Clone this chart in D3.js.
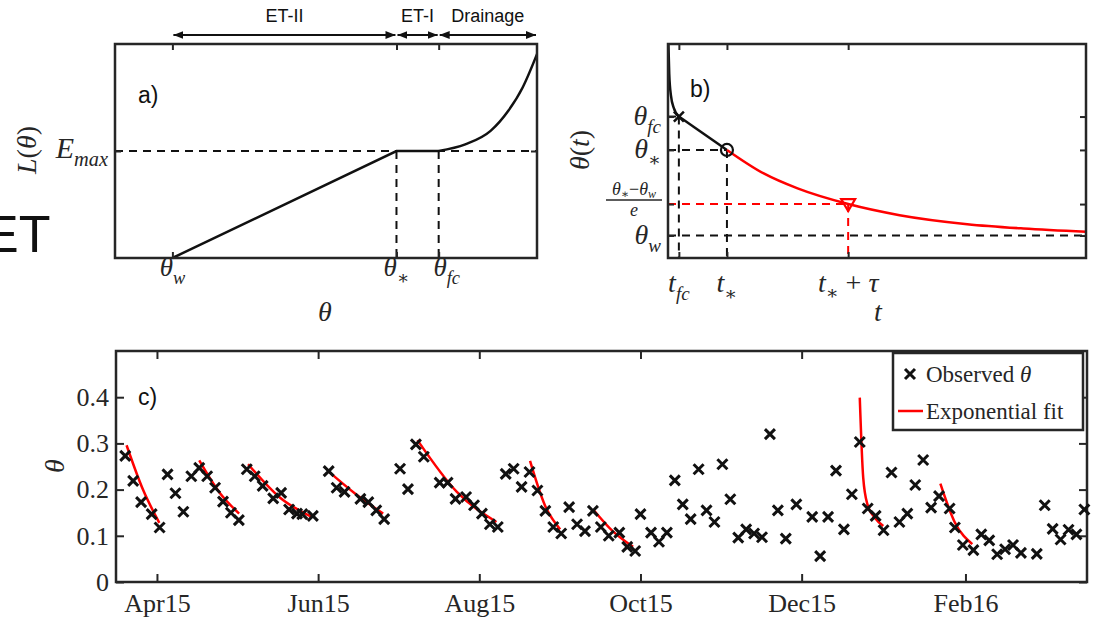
<!DOCTYPE html>
<html>
<head>
<meta charset="utf-8">
<script src="https://cdn.jsdelivr.net/npm/d3@7"></script>
<style>
  body { margin: 0; background: #fff; }
  .serif { font-family: "Liberation Serif", "DejaVu Serif", serif; fill: #262626; }
  .sans { font-family: "Liberation Sans", Arial, sans-serif; fill: #111; }
</style>
</head>
<body>
<div id="app"></div>
<script>
// ---- panel a: loss function (axis fractions) ----
const thetaW = 0.136, thetaStar = 0.667, thetaFc = 0.767, eMax = 0.5;
const lossLine = [[thetaW, 0], [thetaStar, eMax], [thetaFc, eMax]];
const drainage = [[0.767, 0.5], [0.83, 0.531], [0.89, 0.594], [0.932, 0.688], [0.966, 0.797], [1.0, 0.953]];
const regimes = [["ET-II", thetaW, thetaStar], ["ET-I", thetaStar, thetaFc], ["Drainage", thetaFc, 1]];

// ---- panel b: drydown schematic (axis fractions) ----
const tFc = 0.026, tStar = 0.141, tTau = 0.431;
const thFc = 0.661, thStar = 0.505, thE = 0.252, thW = 0.105;
const fastDrain = [[0.001, 1.0], [0.003, 0.86], [0.007, 0.76], [0.014, 0.70], [tFc, thFc]];
const slowDrain = [[tFc, thFc], [tStar, thStar]];
const expDecay = [[0.141, 0.505], [0.229, 0.395], [0.31, 0.325], [0.431, 0.252], [0.554, 0.20], [0.716, 0.158], [0.85, 0.138], [1.0, 0.123]];

// ---- panel c: observed soil moisture, days since 2015-04-01 ----
const obsDay = [-12,-9,-6,-2,1,4,7,10,13,16,19,22,25,28,31,34,37,40,44,47,50,53,55,59,65,68,71,77,80,83,86,92,95,98,101,107,110,113,117,120,123,126,129,132,135,138,141,144,147,150,153,156,159,162,165,168,171,175,178,181,183,187,190,193,196,199,202,205,208,211,214,217,220,223,226,229,232,235,238,242,248,251,254,257,260,263,266,269,272,275,278,281,284,287,290,293,296,300,302,305,309,312,315,318,321,324,327,333,336,339,342,345,348,351];
const obsTheta = [0.273,0.219,0.173,0.147,0.118,0.233,0.192,0.152,0.229,0.247,0.229,0.204,0.174,0.150,0.134,0.244,0.229,0.208,0.181,0.193,0.157,0.148,0.147,0.143,0.240,0.204,0.195,0.180,0.173,0.155,0.136,0.245,0.201,0.298,0.271,0.215,0.215,0.180,0.184,0.166,0.148,0.125,0.119,0.234,0.245,0.206,0.238,0.198,0.154,0.119,0.105,0.162,0.125,0.110,0.154,0.119,0.100,0.107,0.076,0.067,0.147,0.107,0.087,0.107,0.220,0.168,0.136,0.244,0.155,0.130,0.255,0.179,0.096,0.114,0.105,0.097,0.320,0.155,0.094,0.168,0.141,0.056,0.141,0.241,0.114,0.190,0.303,0.159,0.143,0.112,0.237,0.130,0.148,0.210,0.264,0.161,0.186,0.159,0.118,0.080,0.069,0.103,0.090,0.060,0.071,0.080,0.063,0.061,0.166,0.115,0.092,0.113,0.103,0.157];

const fitDays = [
  [-11.5, -5.3, 0.9],
  [16, 23.5, 31.1],
  [34.5, 46.5, 58.5],
  [64.8, 75.3, 85.6],
  [98.6, 113.5, 128.5],
  [141.2, 146.9, 152.6],
  [165.1, 172.5, 180.2],
  [266, 267.3, 268.9, 271.7, 274.9],
  [296.5, 301.9, 308.6]
];
const fitTheta = [
  [0.296, 0.200, 0.128],
  [0.263, 0.195, 0.148],
  [0.255, 0.183, 0.141],
  [0.240, 0.190, 0.148],
  [0.307, 0.195, 0.130],
  [0.262, 0.165, 0.114],
  [0.157, 0.110, 0.076],
  [0.399, 0.226, 0.168, 0.139, 0.121],
  [0.213, 0.130, 0.082]
];
const monthTicks = ["2015-04-01", "2015-06-01", "2015-08-01", "2015-10-01", "2015-12-01", "2016-02-01"];
const thetaTicks = [0, 0.1, 0.2, 0.3, 0.4];

const ink = "#262626";
const svg = d3.select("#app").append("svg").attr("width", 1095).attr("height", 619);

// arrow heads for the regime bar
const defs = svg.append("defs");
["end", "start"].forEach(k => {
  defs.append("marker")
    .attr("id", "arr-" + k)
    .attr("viewBox", "0 0 10 10").attr("refX", 10).attr("refY", 5)
    .attr("markerWidth", 10).attr("markerHeight", 10)
    .attr("markerUnits", "userSpaceOnUse")
    .attr("orient", k === "end" ? "auto" : "auto-start-reverse")
    .append("path").attr("d", "M0,1 L10,5 L0,9 Z").attr("fill", "#111");
});

// ticks on all four sides, MATLAB style
function box(g, x, y, xt, yt, len) {
  const [x0, x1] = x.range(), [y1, y0] = y.range();
  g.append("g").attr("transform", `translate(0,${y1})`)
    .call(d3.axisBottom(x).tickValues(xt).tickSize(-len).tickFormat(""));
  g.append("g").attr("transform", `translate(0,${y0})`)
    .call(d3.axisTop(x).tickValues(xt).tickSize(-len).tickFormat(""));
  g.append("g").attr("transform", `translate(${x0},0)`)
    .call(d3.axisLeft(y).tickValues(yt).tickSize(-len).tickFormat(""));
  g.append("g").attr("transform", `translate(${x1},0)`)
    .call(d3.axisRight(y).tickValues(yt).tickSize(-len).tickFormat(""));
  g.selectAll(".domain").remove();
  g.selectAll(".tick line").attr("stroke", ink).attr("stroke-width", 2);
  g.append("rect").attr("x", x0).attr("y", y0).attr("width", x1 - x0).attr("height", y1 - y0)
    .attr("fill", "none").attr("stroke", ink).attr("stroke-width", 2.5);
}

// italic math label with optional subscript
function math(g, x, y, base, sub, size, anchor) {
  const t = g.append("text").attr("class", "serif").attr("x", x).attr("y", y)
    .attr("font-size", size).attr("text-anchor", anchor || "middle");
  t.append("tspan").attr("font-style", "italic").text(base);
  if (sub) {
    t.append("tspan").attr("font-size", size * 0.68).attr("dy", size * 0.28)
      .attr("font-style", sub === "\u2217" ? "normal" : "italic").text(sub);
  }
  return t;
}

function dashed(g, pts, color) {
  g.append("path").attr("d", d3.line()(pts)).attr("fill", "none")
    .attr("stroke", color).attr("stroke-width", 2).attr("stroke-dasharray", "8,6");
}

// ============ panel a ============
const ga = svg.append("g");
const xa = d3.scaleLinear().domain([0, 1]).range([115, 537]);
const ya = d3.scaleLinear().domain([0, 1]).range([258, 44]);

dashed(ga, [[xa(0), ya(eMax)], [xa(1), ya(eMax)]], "#111");
dashed(ga, [[xa(thetaStar), ya(eMax)], [xa(thetaStar), ya(0)]], "#111");
dashed(ga, [[xa(thetaFc), ya(eMax)], [xa(thetaFc), ya(0)]], "#111");

const lineA = d3.line().x(d => xa(d[0])).y(d => ya(d[1]));
ga.append("path").attr("d", lineA(lossLine)).attr("fill", "none").attr("stroke", "#111").attr("stroke-width", 2.5);
ga.append("path").attr("d", lineA.curve(d3.curveMonotoneX)(drainage)).attr("fill", "none").attr("stroke", "#111").attr("stroke-width", 2.5);

box(ga, xa, ya, [thetaW, thetaStar, thetaFc], [eMax], 6);

regimes.forEach(([name, a, b]) => {
  ga.append("line").attr("x1", xa(a) + 1).attr("x2", xa(b) - 1).attr("y1", 35).attr("y2", 35)
    .attr("stroke", "#111").attr("stroke-width", 2)
    .attr("marker-start", "url(#arr-start)").attr("marker-end", "url(#arr-end)");
  ga.append("text").attr("class", "sans").attr("x", (xa(a) + xa(b)) / 2).attr("y", 22)
    .attr("text-anchor", "middle").attr("font-size", 18).text(name);
});

ga.append("text").attr("class", "sans").attr("x", 138).attr("y", 103).attr("font-size", 23).text("a)");
math(ga, xa(thetaW), 276, "\u03b8", "w", 27);
math(ga, xa(thetaStar), 276, "\u03b8", "\u2217", 27);
math(ga, xa(thetaFc) + 8, 276, "\u03b8", "fc", 27);
math(ga, 325, 321, "\u03b8", null, 28);
math(ga, 108, 158, "E", "max", 30, "end");
ga.append("text").attr("class", "serif").attr("font-size", 28).attr("text-anchor", "middle")
  .attr("transform", "translate(36,150) rotate(-90)")
  .html('<tspan font-style="italic">L</tspan>(<tspan font-style="italic">\u03b8</tspan>)');

svg.append("text").attr("class", "sans").attr("x", -16).attr("y", 252).attr("font-size", 52).text("ET");

// ============ panel b ============
const gb = svg.append("g");
const xb = d3.scaleLinear().domain([0, 1]).range([668, 1086]);
const yb = d3.scaleLinear().domain([0, 1]).range([258, 44]);

dashed(gb, [[xb(0), yb(thW)], [xb(1), yb(thW)]], "#111");
dashed(gb, [[xb(0), yb(thFc)], [xb(tFc), yb(thFc)]], "#111");
dashed(gb, [[xb(0), yb(thStar)], [xb(tStar), yb(thStar)]], "#111");
dashed(gb, [[xb(tFc), yb(thFc)], [xb(tFc), yb(0)]], "#111");
dashed(gb, [[xb(tStar), yb(thStar)], [xb(tStar), yb(0)]], "#111");
dashed(gb, [[xb(0), yb(thE)], [xb(tTau), yb(thE)]], "#ff0000");
dashed(gb, [[xb(tTau), yb(thE)], [xb(tTau), yb(0)]], "#ff0000");

const lineB = d3.line().x(d => xb(d[0])).y(d => yb(d[1]));
gb.append("path").attr("d", lineB.curve(d3.curveMonotoneX)(fastDrain)).attr("fill", "none").attr("stroke", "#111").attr("stroke-width", 2.5);
gb.append("path").attr("d", lineB.curve(d3.curveLinear)(slowDrain)).attr("fill", "none").attr("stroke", "#111").attr("stroke-width", 2.5);
gb.append("path").attr("d", lineB.curve(d3.curveMonotoneX)(expDecay)).attr("fill", "none").attr("stroke", "#ff0000").attr("stroke-width", 2.5);

box(gb, xb, yb, [tFc, tStar, tTau], [thW, thE, thStar, thFc], 6);

// markers
const cx = xb(tFc), cy = yb(thFc);
gb.append("path").attr("d", `M${cx - 5},${cy - 5}L${cx + 5},${cy + 5}M${cx - 5},${cy + 5}L${cx + 5},${cy - 5}`)
  .attr("stroke", "#111").attr("stroke-width", 2.5);
gb.append("circle").attr("cx", xb(tStar)).attr("cy", yb(thStar)).attr("r", 6)
  .attr("fill", "none").attr("stroke", "#111").attr("stroke-width", 2.2);
const tx = xb(tTau), ty = yb(thE);
gb.append("path").attr("d", `M${tx - 7},${ty - 5}L${tx + 7},${ty - 5}L${tx},${ty + 7}Z`)
  .attr("fill", "none").attr("stroke", "#ff0000").attr("stroke-width", 2.2);

gb.append("text").attr("class", "sans").attr("x", 690).attr("y", 97).attr("font-size", 23).text("b)");
math(gb, 661, 125, "\u03b8", "fc", 28, "end");
math(gb, 661, 158, "\u03b8", "\u2217", 28, "end");
math(gb, 661, 244, "\u03b8", "w", 28, "end");
// fraction label
const fr = gb.append("text").attr("class", "serif").attr("x", 634).attr("y", 195)
  .attr("font-size", 18).attr("text-anchor", "middle");
fr.append("tspan").attr("font-style", "italic").text("\u03b8");
fr.append("tspan").attr("font-size", 12).attr("dy", 3).text("\u2217");
fr.append("tspan").attr("dy", -3).text("\u2212");
fr.append("tspan").attr("font-style", "italic").text("\u03b8");
fr.append("tspan").attr("font-size", 12).attr("dy", 3).attr("font-style", "italic").text("w");
gb.append("line").attr("x1", 606).attr("x2", 662).attr("y1", 200).attr("y2", 200).attr("stroke", ink).attr("stroke-width", 1.3);
math(gb, 634, 216, "e", null, 18);

math(gb, xb(tFc), 292, "t", "fc", 28);
math(gb, xb(tStar), 292, "t", "\u2217", 28);
const tl = gb.append("text").attr("class", "serif").attr("x", xb(tTau)).attr("y", 292)
  .attr("font-size", 28).attr("text-anchor", "middle");
tl.append("tspan").attr("font-style", "italic").text("t");
tl.append("tspan").attr("font-size", 19).attr("dy", 7).text("\u2217");
tl.append("tspan").attr("dy", -7).text(" + ");
tl.append("tspan").attr("font-style", "italic").text("\u03c4");
math(gb, 878, 321, "t", null, 28);
gb.append("text").attr("class", "serif").attr("font-size", 28).attr("text-anchor", "middle")
  .attr("transform", "translate(589,150) rotate(-90)")
  .html('<tspan font-style="italic">\u03b8</tspan>(<tspan font-style="italic">t</tspan>)');

// ============ panel c ============
const gc = svg.append("g");
const day0 = new Date(2015, 3, 1);
const toDate = d => new Date(day0.getTime() + d * 864e5);
const xc = d3.scaleTime().domain([new Date(2015, 2, 16, 12), new Date(2016, 2, 18)]).range([116, 1087]);
const yc = d3.scaleLinear().domain([0, 0.5]).range([582, 351]);
const months = monthTicks.map(s => d3.timeParse("%Y-%m-%d")(s));

box(gc, xc, yc, months, thetaTicks, 8);

gc.append("g").attr("transform", "translate(0,582)")
  .call(d3.axisBottom(xc).tickValues(months).tickSize(0).tickPadding(12).tickFormat(d3.timeFormat("%b%y")))
  .call(g => g.select(".domain").remove())
  .selectAll("text").attr("class", "serif").attr("font-size", 26).attr("fill", ink);
gc.append("g").attr("transform", "translate(116,0)")
  .call(d3.axisLeft(yc).tickValues(thetaTicks).tickSize(0).tickPadding(7).tickFormat(d => d === 0 ? "0" : d3.format(".1f")(d)))
  .call(g => g.select(".domain").remove())
  .selectAll("text").attr("class", "serif").attr("font-size", 26).attr("fill", ink);

const fitLine = d3.line().x(d => xc(toDate(d[0]))).y(d => yc(d[1])).curve(d3.curveMonotoneX);
fitDays.forEach((days, i) => {
  gc.append("path").attr("d", fitLine(d3.zip(days, fitTheta[i])))
    .attr("fill", "none").attr("stroke", "#ff0000").attr("stroke-width", 2.5);
});

const cross = (x, y, s) => `M${x - s},${y - s}L${x + s},${y + s}M${x - s},${y + s}L${x + s},${y - s}`;
gc.selectAll("path.obs").data(d3.zip(obsDay, obsTheta)).join("path")
  .attr("class", "obs")
  .attr("d", d => cross(xc(toDate(d[0])), yc(d[1]), 5))
  .attr("stroke", "#111").attr("stroke-width", 3);

gc.append("text").attr("class", "sans").attr("x", 138).attr("y", 405).attr("font-size", 23).text("c)");
gc.append("text").attr("class", "serif").attr("font-size", 28).attr("font-style", "italic")
  .attr("text-anchor", "middle").attr("transform", "translate(64,466) rotate(-90)").text("\u03b8");

// legend
const lg = gc.append("g");
lg.append("rect").attr("x", 893).attr("y", 353).attr("width", 190).attr("height", 77)
  .attr("fill", "#fff").attr("stroke", ink).attr("stroke-width", 2.5);
lg.append("path").attr("d", cross(910, 374, 5)).attr("stroke", "#111").attr("stroke-width", 3);
lg.append("line").attr("x1", 898).attr("x2", 923).attr("y1", 411).attr("y2", 411).attr("stroke", "#ff0000").attr("stroke-width", 2.5);
const l1 = lg.append("text").attr("class", "serif").attr("x", 926).attr("y", 382).attr("font-size", 23);
l1.append("tspan").text("Observed ");
l1.append("tspan").attr("font-style", "italic").text("\u03b8");
lg.append("text").attr("class", "serif").attr("x", 926).attr("y", 419).attr("font-size", 23).text("Exponential fit");
</script>
</body>
</html>
